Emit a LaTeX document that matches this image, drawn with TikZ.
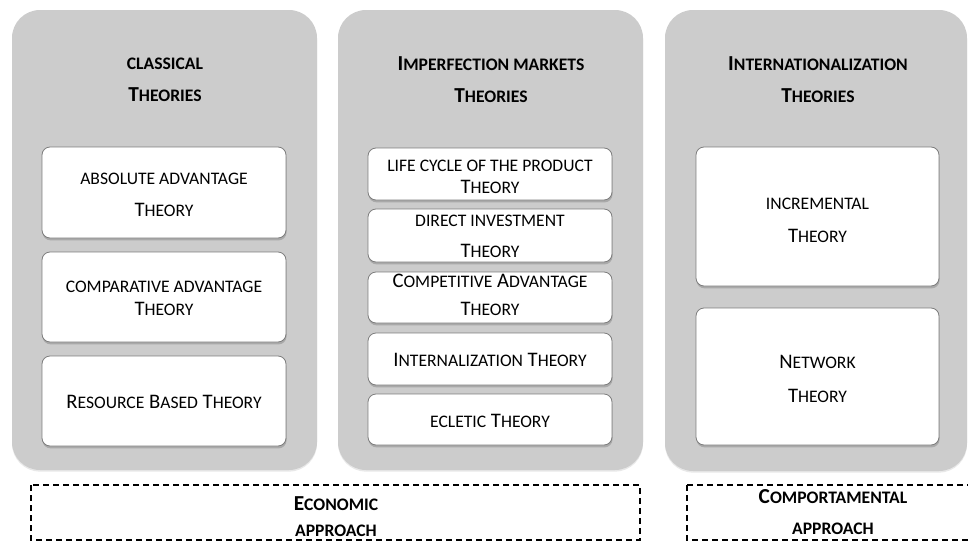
\documentclass[tikz,border=0pt]{standalone}
\usepackage{fontspec}
\setmainfont{Carlito}
\usetikzlibrary{shadows}

\definecolor{panelgray}{RGB}{204,204,204}
\definecolor{boxline}{RGB}{125,125,125}
\newcommand\smallcap[1]{{\fontsize{13.2}{15}\selectfont\MakeUppercase{#1}}}

\begin{document}
\begin{tikzpicture}[x=0.75pt,y=-0.75pt,
  panel/.style={fill=panelgray,rounded corners=21pt,
    drop shadow={shadow xshift=0pt,shadow yshift=-1.2pt,opacity=.18}},
  theorybox/.style={draw=boxline,line width=0.6pt,fill=white,rounded corners=6pt,
    drop shadow={shadow xshift=0.4pt,shadow yshift=-1.8pt,opacity=.45}},
  approach/.style={draw,line width=1.7pt,dash pattern=on 4.5pt off 3pt},
  txt/.style={align=center,inner sep=0pt,font=\fontsize{15.5}{16.5}\selectfont},
  headtxt/.style={align=center,inner sep=0pt,font=\bfseries\fontsize{16}{17}\selectfont}]
\clip (0,0) rectangle (968,543);

% The panels
\path[panel] (12,10) rectangle (317,470);
\path[panel] (338,10) rectangle (643,470);
\path[panel] (665,10) rectangle (967,471);

% The white theory boxes
\foreach \ya/\yb in {147/238,252/342,356/446}
  \path[theorybox] (42,\ya) rectangle (286,\yb);
\foreach \ya/\yb in {148/200,209/262,272/323,333/385,394/445}
  \path[theorybox] (368,\ya) rectangle (612,\yb);
\foreach \ya/\yb in {147/286,308/445}
  \path[theorybox] (696,\ya) rectangle (939,\yb);

% The dashed approach boxes
\draw[approach] (31,485) rectangle (640,540);
\draw[approach] (687,485) rectangle (990,540);

% Panel headings
\node[headtxt] (classical) at (165,79.5) {\smallcap{classical}\\[7pt] T\smallcap{heories}};
\node[headtxt] (imperfection) at (491,79.5) {I\smallcap{mperfection markets}\\[7pt] T\smallcap{heories}};
\node[headtxt] (international) at (818,79.5) {I\smallcap{nternationalization}\\[7pt] T\smallcap{heories}};

% Texts of the classical theories
\node[txt] (absolute) at (164,194.5) {\smallcap{absolute advantage}\\[7.5pt] T\smallcap{heory}};
\node[txt] (comparative) at (164,298) {\smallcap{comparative advantage}\\[0.75pt] T\smallcap{heory}};
\node[txt] (resource) at (164,401.5) {R\smallcap{esource} B\smallcap{ased} T\smallcap{heory}};

% Texts of the imperfection markets theories
\node[txt] (lifecycle) at (490,176.5) {\smallcap{life cycle of the product}\\ T\smallcap{heory}};
\node[txt] (direct) at (490,236.5) {\smallcap{direct investment}\\[6.75pt] T\smallcap{heory}};
\node[txt] (competitive) at (490,295) {C\smallcap{ompetitive} A\smallcap{dvantage}\\[4.5pt] T\smallcap{heory}};
\node[txt] (internalization) at (490,359.5) {I\smallcap{nternalization} T\smallcap{heory}};
\node[txt] (eclectic) at (490,420.5) {\smallcap{ecletic} T\smallcap{heory}};

% Texts of the internationalization theories
\node[txt] (incremental) at (817.5,220.5) {\smallcap{incremental}\\[8.25pt] T\smallcap{heory}};
\node[txt] (network) at (817.5,378.5) {N\smallcap{etwork}\\[9pt] T\smallcap{heory}};

% Approach labels
\node[headtxt] (economic) at (336,516.5) {E\smallcap{conomic}\\[2.5pt] \smallcap{approach}};
\node[headtxt] (comportamental) at (833,512) {C\smallcap{omportamental}\\[6pt] \smallcap{approach}};

\end{tikzpicture}
\end{document}
